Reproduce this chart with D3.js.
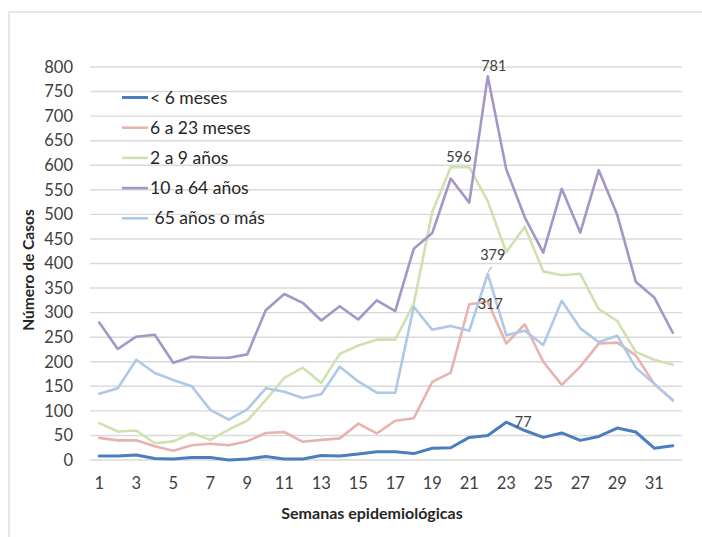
<!DOCTYPE html>
<html><head><meta charset="utf-8">
<script src="https://cdn.jsdelivr.net/npm/d3@7"></script>
<style>body{margin:0;background:#fff}svg{display:block;font-family:Lato,"Open Sans",sans-serif}</style>
</head><body><svg id="c" width="702" height="537"></svg>
<script>
const weeks = d3.range(1, 33);
const seriesNames = ["< 6 meses", "6 a 23 meses", "2 a 9 años", "10 a 64 años", " 65 años o más"];
const menor6m = [8,8,10,3,2,5,5,0,2,7,2,2,9,8,12,17,17,13,24,25,46,50,77,60,46,55,40,48,65,57,24,29];
const m6a23 = [45,40,40,28,19,30,33,30,38,55,57,37,41,44,74,54,80,85,159,178,317,322,237,276,200,153,190,237,239,213,155,122];
const a2a9 = [75,58,60,34,38,55,41,62,80,122,167,188,157,216,233,245,245,318,505,596,596,527,423,475,384,376,379,307,283,220,204,194];
const a10a64 = [280,226,251,255,198,210,208,208,215,305,338,320,284,313,286,325,303,430,462,573,524,781,592,494,422,552,463,590,499,363,331,259];
const a65mas = [135,146,204,177,163,150,102,82,103,146,139,126,134,190,160,137,137,312,265,273,263,379,254,263,234,324,268,240,253,188,155,121];
const allSeries = [menor6m, m6a23, a2a9, a10a64, a65mas];
const colors = ["#4a7ebf", "#e8b2ae", "#cfe1b0", "#a595c8", "#aec8e8"];
const widths = [3, 2.6, 2.6, 2.6, 2.6];
const yTicks = d3.range(0, 801, 50);
const xTickLabels = weeks.filter(w => w % 2 === 1);
// data labels: [series index, week]
const labelSeries = [3, 2, 4, 1, 0];
const labelWeeks = [22, 20, 22, 21, 23];

const svg = d3.select("#c");
svg.append("rect").attr("x", 9).attr("y", 12).attr("width", 800).attr("height", 600)
  .attr("fill", "none").attr("stroke", "#d9d9d9").attr("stroke-width", 1.2);

const x = d3.scaleBand().domain(weeks).range([90, 682]);
const cx = w => x(w) + x.bandwidth() / 2;
const y = d3.scaleLinear().domain([0, 800]).range([460, 67]);

// grid
svg.append("g").selectAll("line").data(yTicks).join("line")
  .attr("x1", 90).attr("x2", 682).attr("y1", d => y(d)).attr("y2", d => y(d))
  .attr("stroke", "#d9d9d9").attr("stroke-width", 1.4);

// y axis labels
const yAxis = d3.axisLeft(y).tickValues(yTicks).tickSize(0).tickPadding(0);
const gy = svg.append("g").attr("transform", "translate(73,0)").call(yAxis);
gy.select(".domain").remove();
gy.selectAll("text").attr("font-size", 16.5).attr("fill", "#404040").attr("font-family", "Lato");

// x axis labels
const xAxis = d3.axisBottom(x).tickValues(xTickLabels).tickSize(0).tickPadding(0);
const gx = svg.append("g").attr("transform", "translate(0,477)").call(xAxis);
gx.select(".domain").remove();
gx.selectAll("text").attr("font-size", 16.5).attr("fill", "#404040").attr("font-family", "Lato");

// lines
const line = d3.line().x((d, i) => cx(weeks[i])).y(d => y(d));
allSeries.forEach((s, k) => {
  svg.append("path").datum(s).attr("d", line).attr("fill", "none")
    .attr("stroke", colors[k]).attr("stroke-width", widths[k])
    .attr("stroke-linejoin", "round").attr("stroke-linecap", "round");
});

// data labels
const lab = svg.append("g").attr("font-size", 14.5).attr("fill", "#404040");
const offs = [[6, -10], [8, -10], [5, -19], [21, 0], [17, 0]];
labelSeries.forEach((si, i) => {
  const w = labelWeeks[i];
  const v = allSeries[si][w - 1];
  const px = cx(w), py = y(v);
  lab.append("text").attr("x", px + offs[i][0]).attr("y", py + offs[i][1])
    .attr("text-anchor", "middle").attr("dy", "0.35em").text(v);
  if (i === 2) {
    svg.append("line").attr("x1", px + 0.5).attr("y1", py - 2).attr("x2", px + 4).attr("y2", py - 7)
      .attr("stroke", "#808080").attr("stroke-width", 0.8);
  }
});

// legend
const leg = svg.append("g");
seriesNames.forEach((n, k) => {
  const ly = 97.5 + k * 30.2;
  leg.append("line").attr("x1", 122).attr("x2", 148).attr("y1", ly).attr("y2", ly)
    .attr("stroke", colors[k]).attr("stroke-width", widths[k]);
  leg.append("text").attr("x", 150).attr("y", ly).attr("dy", "0.35em")
    .attr("font-size", 17.5).attr("fill", "#262626").attr("xml:space", "preserve")
    .style("white-space", "pre").text(n);
});

// axis titles
svg.append("text").attr("x", 372).attr("y", 513).attr("dy", "0.35em").attr("text-anchor", "middle")
  .attr("font-weight", "bold").attr("font-size", 16).attr("fill", "#262626").text("Semanas epidemiológicas");
svg.append("text").attr("transform", "translate(29,270) rotate(-90)").attr("dy", "0.35em")
  .attr("text-anchor", "middle").attr("font-weight", "bold").attr("font-size", 15.5)
  .attr("fill", "#262626").text("Número de Casos");
</script></body></html>
